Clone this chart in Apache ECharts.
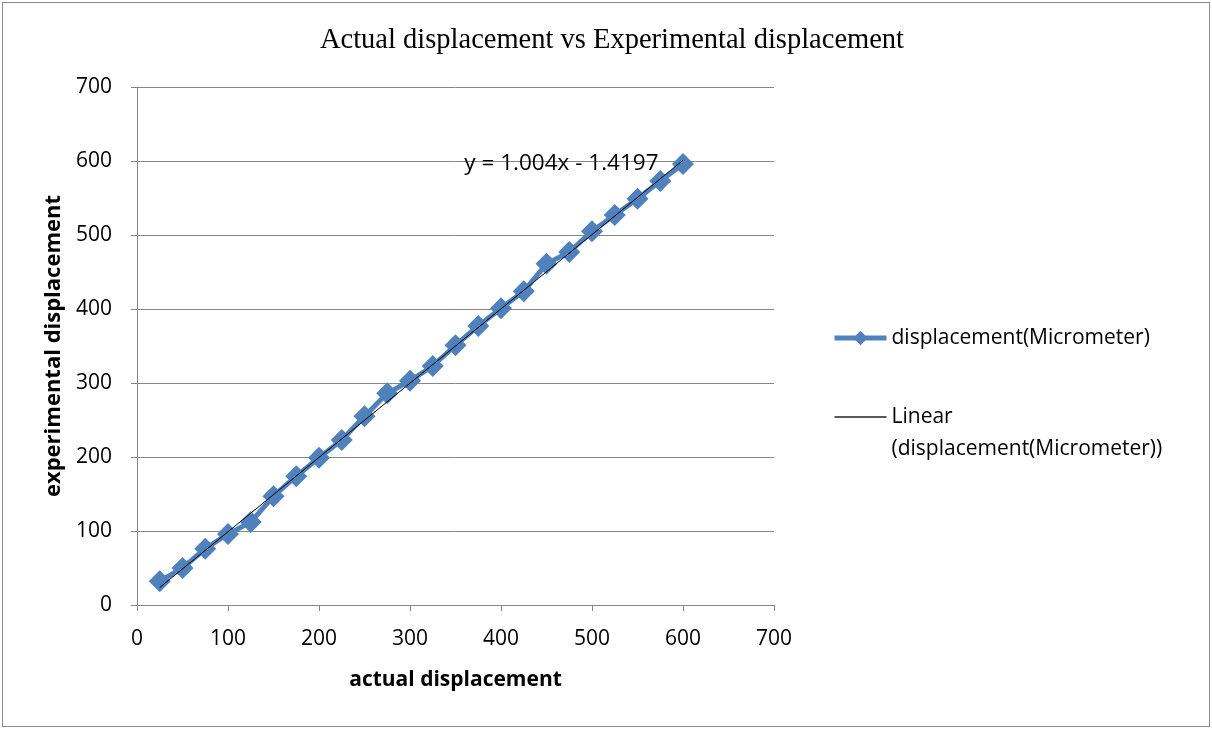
<!DOCTYPE html>
<html>
<head>
<meta charset="utf-8">
<script src="https://cdn.jsdelivr.net/npm/echarts@6/dist/echarts.min.js"></script>
<style>
html,body{margin:0;padding:0;background:#fff;}
#frame{position:absolute;left:2px;top:2px;width:1206px;height:723px;border:1px solid #8c8c8c;box-sizing:content-box;}
#chart{width:1212px;height:729px;}
</style>
</head>
<body>
<div id="chart"></div>
<div id="frame" style="pointer-events:none"></div>
<script>
const actual = [25,50,75,100,125,150,175,200,225,250,275,300,325,350,375,400,425,450,475,500,525,550,575,600];
const experimental = [32,50,76,96,112,147,174,199,223,255,286,303,323,351,377,401,424,461,477,505,527,549,573,596];
const trendSlope = 1.004;
const trendIntercept = -1.4197;
const seriesName = 'displacement(Micrometer)';
const trendName = 'Linear (displacement(Micrometer))';

const mainData = actual.map((x,i)=>[x, experimental[i]]);
const xMin = actual[0], xMax = actual[actual.length-1];
const trendData = [[xMin, trendSlope*xMin+trendIntercept],[xMax, trendSlope*xMax+trendIntercept]];

const chart = echarts.init(document.getElementById('chart'), null, {renderer:'canvas'});
const labelFont = {fontFamily:'Open Sans', fontSize:21, color:'#000'};
chart.setOption({
  animation:false,
  backgroundColor:'#fff',
  title:{
    text:'Actual displacement vs Experimental displacement',
    left:607, top:21, textAlign:'center',
    textStyle:{fontFamily:'Liberation Serif', fontWeight:'normal', fontSize:28.5, color:'#000'}
  },
  grid:{left:137, right:438, top:87, bottom:124},
  xAxis:{
    type:'value', min:0, max:700, interval:100,
    name:'actual displacement', nameLocation:'middle', nameGap:65,
    nameTextStyle:{fontFamily:'Open Sans', fontWeight:'bold', fontSize:21, color:'#000'},
    axisLine:{show:true, lineStyle:{color:'#868686', width:1}},
    axisTick:{show:true, inside:false, length:6, lineStyle:{color:'#868686'}},
    axisLabel:Object.assign({margin:24}, labelFont),
    splitLine:{show:false}
  },
  yAxis:{
    type:'value', min:0, max:700, interval:100,
    name:'experimental displacement', nameLocation:'middle', nameGap:71, nameRotate:90,
    nameTextStyle:{fontFamily:'Open Sans', fontWeight:'bold', fontSize:22, color:'#000'},
    axisLine:{show:true, lineStyle:{color:'#868686', width:1}},
    axisTick:{show:true, inside:false, length:6, lineStyle:{color:'#868686'}},
    axisLabel:Object.assign({margin:25}, labelFont),
    splitLine:{show:true, lineStyle:{color:'#868686', width:1}}
  },
  legend:{
    orient:'vertical', left:832, top:322, padding:0, itemGap:15, itemWidth:52, itemHeight:18,
    textStyle:{fontFamily:'Open Sans', fontSize:21, color:'#000', lineHeight:32},
    formatter:function(n){ return n===trendName ? '\nLinear\n(displacement(Micrometer))' : n; },
    data:[
      {name:seriesName, lineStyle:{width:5, color:'#4F81BD'}},
      {name:trendName, itemStyle:{opacity:0}, lineStyle:{width:1.5, color:'#222'}}
    ]
  },
  series:[
    {
      name:seriesName, type:'line', data:mainData,
      symbol:'diamond', symbolSize:22,
      lineStyle:{color:'#4F81BD', width:5},
      itemStyle:{color:'#4F81BD'},
      z:2
    },
    {
      name:trendName, type:'line', data:trendData,
      symbol:'none',
      lineStyle:{color:'#000', width:1},
      itemStyle:{color:'#000'},
      z:3,
      markPoint:{
        symbol:'rect', symbolSize:1,
        data:[{coord:[xMax, trendSlope*xMax+trendIntercept],
          label:{show:true, position:'left', distance:24, offset:[0,3],
            formatter:'y = '+trendSlope+'x - '+Math.abs(trendIntercept),
            fontFamily:'Open Sans', fontSize:22.5, color:'#000'}}],
        itemStyle:{color:'transparent'}
      }
    }
  ]
});
</script>
</body>
</html>
